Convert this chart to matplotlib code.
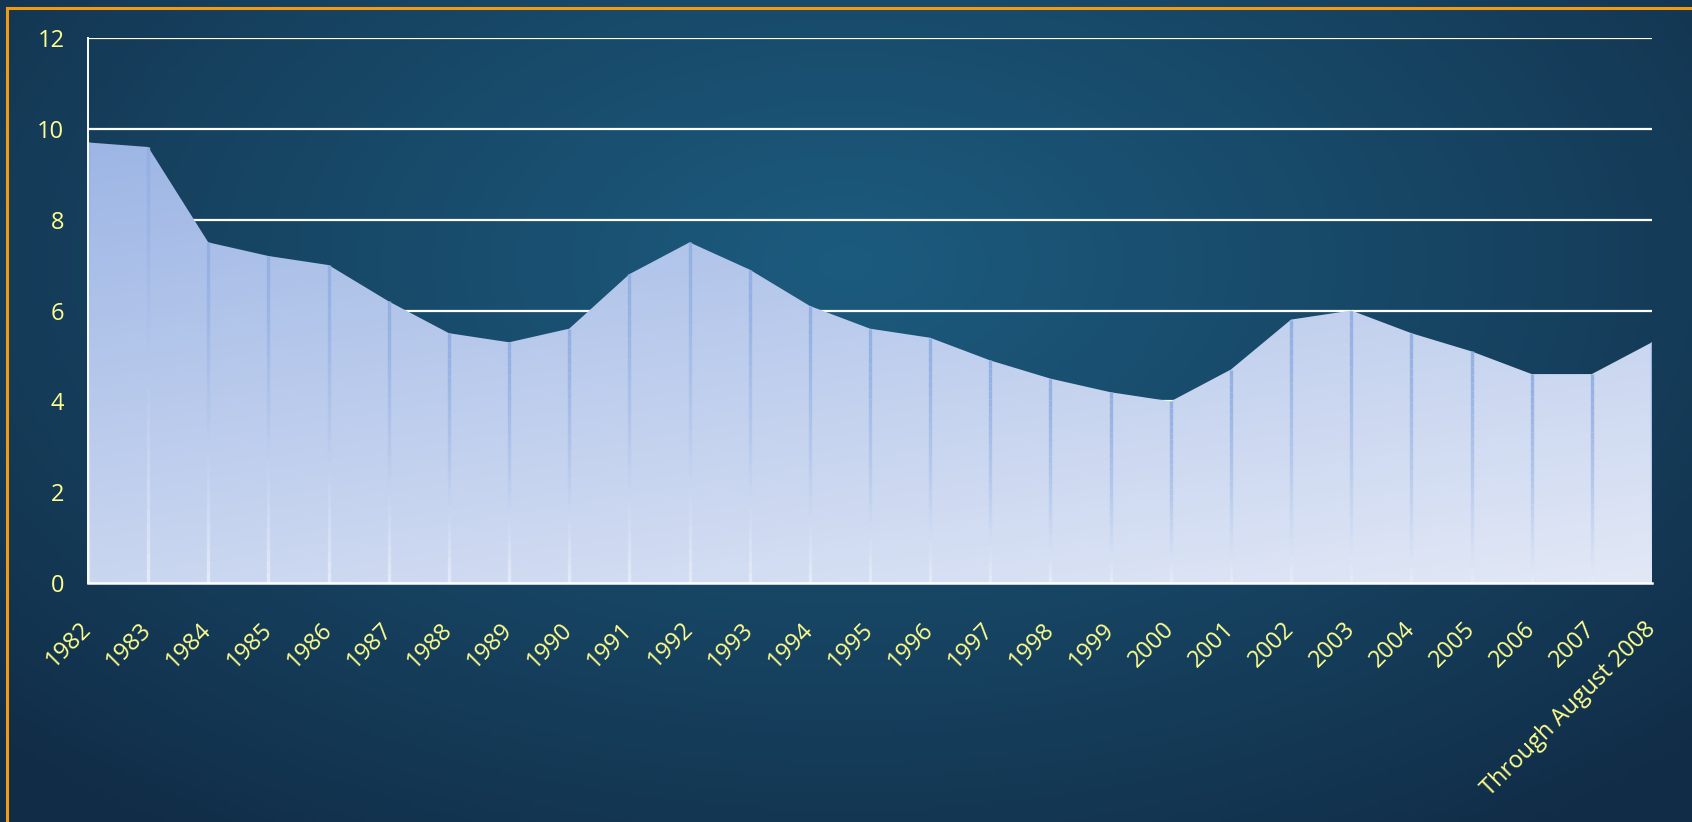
import numpy as np
import matplotlib.pyplot as plt
from matplotlib.collections import LineCollection
from matplotlib.colors import LinearSegmentedColormap, to_rgb

# data
years = ["1982", "1983", "1984", "1985", "1986", "1987", "1988", "1989", "1990",
         "1991", "1992", "1993", "1994", "1995", "1996", "1997", "1998", "1999",
         "2000", "2001", "2002", "2003", "2004", "2005", "2006", "2007",
         "Through August 2008"]
rates = [9.7, 9.6, 7.5, 7.2, 7.0, 6.2, 5.5, 5.3, 5.6,
         6.8, 7.5, 6.9, 6.1, 5.6, 5.4, 4.9, 4.5, 4.2,
         4.0, 4.7, 5.8, 6.0, 5.5, 5.1, 4.6, 4.6, 5.3]
yticks = [0, 2, 4, 6, 8, 10, 12]

TICK_COLOR = "#ffff8f"
plt.rcParams["font.family"] = ["Open Sans", "DejaVu Sans"]

fig = plt.figure(figsize=(16.92, 8.22), dpi=100)

# background: dark navy with a lighter glow in the middle
bg = fig.add_axes([0, 0, 1, 1])
bg.set_axis_off()
gx, gy = np.meshgrid(np.linspace(0, 1, 400), np.linspace(0, 1, 200))
d = np.sqrt(((gx - 0.5) / 0.7) ** 2 + ((gy - 0.32) / 0.85) ** 2)
t = np.clip(1 - d, 0, 1) ** 0.9
c_out = np.array(to_rgb("#112c46"))
c_in = np.array(to_rgb("#1c5b7e"))
img = c_out + (c_in - c_out) * t[..., None]
bg.imshow(img, extent=[0, 1, 0, 1], aspect="auto", origin="upper")
bg.set_xlim(0, 1)
bg.set_ylim(0, 1)

# orange frame along top and left
bg.plot([7 / 1692, 7 / 1692], [0, 1 - 8 / 822], color="#f39a12", lw=2.2)
bg.plot([7 / 1692, 1], [1 - 8 / 822, 1 - 8 / 822], color="#f39a12", lw=2.2)

ax = fig.add_axes([88 / 1692, 1 - 583 / 822, (1652 - 88) / 1692, (583 - 38) / 822])
ax.patch.set_alpha(0)
x = np.arange(len(years))

ax.set_xlim(0, len(years) - 1)
ax.set_ylim(0, 12)
ax.set_yticks(yticks)
ax.grid(axis="y", color="white", lw=1.6, zorder=0)
ax.set_axisbelow(True)

# gradient fill for the area
poly = ax.fill_between(x, rates, 0, color="none", lw=0, zorder=2)
cmap = LinearSegmentedColormap.from_list("area", ["#9cb5e5", "#e2e8f6"])
hx, hy = np.meshgrid(np.linspace(0, 1, 300), np.linspace(1, 0, 300))
grad = 0.65 * (1 - np.clip(hy, 0, 1)) + 0.35 * hx
im = ax.imshow(grad, cmap=cmap, extent=[0, len(years) - 1, 0, 10], aspect="auto",
               origin="upper", zorder=2, vmin=0, vmax=1)
im.set_clip_path(poly.get_paths()[0], transform=ax.transData)

# drop lines, darker at top and fading downwards
segs, cols = [], []
top_c = np.array(to_rgb("#93b0e3"))
bot_c = np.array(to_rgb("#e6ecf8"))
for xi, v in zip(x, rates):
    ys = np.linspace(v, 0, 30)
    for k in range(len(ys) - 1):
        segs.append([(xi, ys[k]), (xi, ys[k + 1])])
        f = (1 - ys[k] / v) ** 1.3
        cols.append(top_c + (bot_c - top_c) * f)
ax.add_collection(LineCollection(segs, colors=cols, linewidths=2.4, zorder=3))

for s in ["top", "right"]:
    ax.spines[s].set_visible(False)
ax.spines["left"].set_color("white")
ax.spines["left"].set_linewidth(1.4)
ax.spines["bottom"].set_color("white")
ax.spines["bottom"].set_linewidth(1.8)
ax.spines["left"].set_zorder(4)
ax.spines["bottom"].set_zorder(4)

ax.set_xticks(x)
ax.set_xticklabels(years, rotation=45, ha="right", va="center", rotation_mode="anchor")
ax.tick_params(axis="x", length=0, pad=31, labelsize=17, labelcolor=TICK_COLOR)
ax.tick_params(axis="y", length=0, pad=17, labelsize=17, labelcolor=TICK_COLOR)

fig.savefig("out.png", dpi=100)
